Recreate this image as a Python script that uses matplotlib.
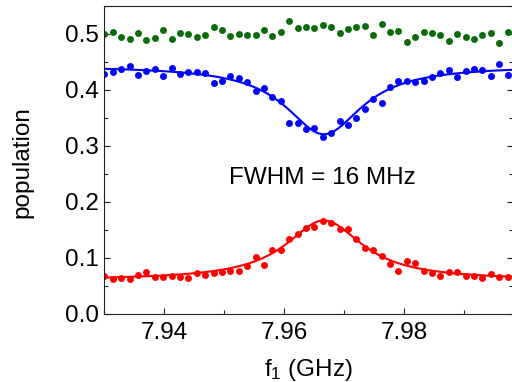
import numpy as np
import matplotlib
matplotlib.use("Agg")
import matplotlib.pyplot as plt
from matplotlib.ticker import MultipleLocator

plt.rcParams['font.family'] = ['Liberation Sans', 'DejaVu Sans']
plt.rcParams['mathtext.fontset'] = 'custom'
plt.rcParams['mathtext.rm'] = 'Liberation Sans'
plt.rcParams['mathtext.default'] = 'regular'

# frequency axis (GHz): 49 points, 1.4 MHz apart
f_start = 7.930
f_step = 0.0014
n_pts = 49
freq = f_start + f_step * np.arange(n_pts)

green_pop = [0.5005, 0.503, 0.495, 0.491, 0.501, 0.490, 0.493, 0.508, 0.4905, 0.502,
             0.500, 0.494, 0.499, 0.5125, 0.508, 0.497, 0.5005, 0.4976, 0.499, 0.5066,
             0.496, 0.503, 0.524, 0.511, 0.513, 0.510, 0.5155, 0.513, 0.502, 0.5095,
             0.513, 0.514, 0.499, 0.518, 0.5036, 0.505, 0.486, 0.494, 0.5036, 0.501,
             0.499, 0.4875, 0.500, 0.495, 0.4916, 0.4976, 0.502, 0.4833, 0.503]

blue_pop = [0.4286, 0.432, 0.4375, 0.4434, 0.4274, 0.434, 0.438, 0.4244, 0.440, 0.4286,
            0.432, 0.4315, 0.4298, 0.412, 0.416, 0.425, 0.4214, 0.4149, 0.3976, 0.4036,
            0.3875, 0.380, 0.341, 0.3416, 0.331, 0.3327, 0.3166, 0.3226, 0.3446, 0.337,
            0.3506, 0.3667, 0.3845, 0.3768, 0.4048, 0.4155, 0.4167, 0.4137, 0.4167, 0.4232,
            0.4304, 0.4363, 0.4226, 0.4345, 0.4375, 0.4363, 0.425, 0.447, 0.4273]

red_pop = [0.0685, 0.0619, 0.0643, 0.0625, 0.0690, 0.0744, 0.0661, 0.0655, 0.0673, 0.0667,
           0.0649, 0.0732, 0.069, 0.0738, 0.075, 0.0768, 0.0768, 0.0857, 0.1018, 0.088,
           0.1143, 0.1149, 0.1333, 0.1435, 0.1542, 0.1554, 0.166, 0.1625, 0.1512, 0.1512,
           0.1339, 0.1173, 0.1143, 0.103, 0.0899, 0.0774, 0.0952, 0.0911, 0.0774, 0.0726,
           0.0685, 0.0744, 0.075, 0.0685, 0.0685, 0.0637, 0.0708, 0.0667, 0.0661]

# Lorentzian fit parameters
fit_center = 7.9666
fit_hwhm = 0.0078
blue_base, blue_depth = 0.4432, 0.1222
red_base, red_height = 0.0605, 0.1065

fwhm_text = "FWHM = 16 MHz"

def lorentz(f):
    return fit_hwhm**2 / ((f - fit_center)**2 + fit_hwhm**2)

W, H = 512, 382
fig = plt.figure(figsize=(W / 100, H / 100), dpi=100)
left, right, bottom, top = 104.3, 513.0, 314.0, 6.0
ax = fig.add_axes([left / W, (H - bottom) / H, (right - left) / W, (bottom - top) / H])

ff = np.linspace(7.929, 7.999, 400)
c_green = '#0b6b0b'
c_blue = '#0000ff'
c_red = '#ff0000'
ms = 5.0

ax.plot(ff, blue_base - blue_depth * lorentz(ff), color=c_blue, lw=1.5)
ax.plot(ff, red_base + red_height * lorentz(ff), color=c_red, lw=1.5)
ax.plot(freq, green_pop, 'o', color=c_green, ms=ms, mec='none')
ax.plot(freq, blue_pop, 'o', color=c_blue, ms=ms, mec='none')
ax.plot(freq, red_pop, 'o', color=c_red, ms=ms, mec='none')

ax.set_xlim(7.930, 7.930 + (right - left) / 6000)
ax.set_ylim(0, 0.55)
ax.xaxis.set_major_locator(MultipleLocator(0.02))
ax.xaxis.set_minor_locator(MultipleLocator(0.01))
ax.yaxis.set_major_locator(MultipleLocator(0.1))
ax.yaxis.set_minor_locator(MultipleLocator(0.05))
ax.xaxis.set_major_formatter(matplotlib.ticker.FormatStrFormatter('%.2f'))
ax.yaxis.set_major_formatter(matplotlib.ticker.FormatStrFormatter('%.1f'))

fs = 17.5
ax.tick_params(which='both', direction='in', left=True, right=True, bottom=True, top=False,
               labelsize=fs, width=0.8, color='#222222')
ax.tick_params(which='major', length=4.5, pad=4)
ax.tick_params(axis='x', which='major', pad=6)
ax.tick_params(which='minor', length=3)
for s in ax.spines.values():
    s.set_linewidth(0.8)
    s.set_color('#222222')

ax.set_xlabel("f$_1$ (GHz)", fontsize=fs)
ax.set_ylabel("population", fontsize=fs)
ax.xaxis.set_label_coords(0.5, -0.138)
ax.xaxis.label.set_va('top')
ax.yaxis.set_label_coords(-0.201, 0.494)
ax.yaxis.label.set_va('center')

ax.text(7.9664, 0.233, fwhm_text, fontsize=fs, ha='center', va='baseline')

fig.savefig("out.png", dpi=100)
